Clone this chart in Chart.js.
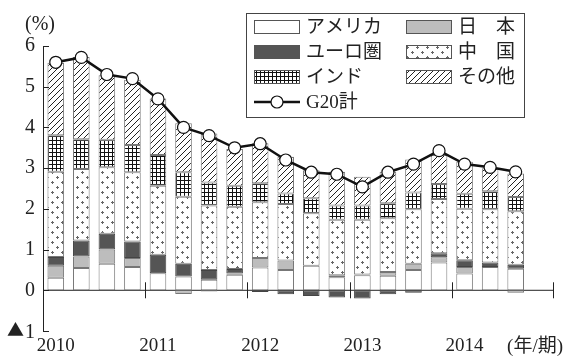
<!DOCTYPE html>
<html lang="ja">
<head>
<meta charset="utf-8">
<script src="https://cdn.jsdelivr.net/npm/chart.js@4.4.1/dist/chart.umd.min.js"></script>
<style>
  html, body { margin: 0; padding: 0; background: #fff; }
</style>
</head>
<body>
<canvas id="g20Chart" width="565" height="356"></canvas>
<script>
// 四半期（年の先頭だけラベルを出す）
const quarters = ['2010', '', '', '', '2011', '', '', '', '2012', '', '', '', '2013', '', '', '', '2014', '', '', ''];
const yTicks = [-1, 0, 1, 2, 3, 4, 5, 6];

// 寄与度 (%)
const usa   = [0.31, 0.55, 0.65, 0.57, 0.42, 0.34, 0.26, 0.38, 0.56, 0.50, 0.60, 0.32, 0.37, 0.36, 0.50, 0.68, 0.41, 0.57, 0.53];
const japan = [0.29, 0.28, 0.35, 0.22, 0.00, -0.09, -0.03, 0.03, 0.23, 0.23, 0.00, 0.05, 0.02, 0.09, 0.15, 0.13, 0.16, 0.00, -0.06];
const euro  = [0.22, 0.39, 0.39, 0.41, 0.45, 0.31, 0.24, 0.11, -0.04, -0.10, -0.14, -0.18, -0.20, -0.10, -0.06, 0.10, 0.17, 0.11, 0.10];
const china = [2.09, 1.76, 1.63, 1.70, 1.70, 1.65, 1.58, 1.53, 1.37, 1.39, 1.29, 1.36, 1.34, 1.32, 1.34, 1.33, 1.26, 1.31, 1.31];
const india = [0.90, 0.73, 0.68, 0.67, 0.75, 0.60, 0.57, 0.52, 0.47, 0.26, 0.37, 0.35, 0.35, 0.37, 0.41, 0.37, 0.37, 0.44, 0.35];
const other = [1.78, 2.02, 1.58, 1.60, 1.39, 1.20, 1.20, 0.90, 0.98, 0.90, 0.69, 0.83, 0.71, 0.77, 0.81, 0.71, 0.79, 0.57, 0.58];
const g20   = [5.60, 5.72, 5.30, 5.20, 4.70, 4.00, 3.80, 3.50, 3.60, 3.20, 2.90, 2.85, 2.54, 2.90, 3.10, 3.43, 3.10, 3.02, 2.91];

const FONT = "'Liberation Serif', 'Noto Sans CJK JP', serif";

// 塗りパターン
function makePattern(size, draw) {
    const c = document.createElement('canvas');
    c.width = size; c.height = size;
    const p = c.getContext('2d');
    p.fillStyle = '#fff';
    p.fillRect(0, 0, size, size);
    draw(p, size);
    return p.createPattern(c, 'repeat');
}

const dotFill = makePattern(10, (p) => {
    p.fillStyle = '#666';
    [[2, 2], [7, 7]].forEach(([x, y]) => {
        p.fillRect(x - 1, y, 3, 1);
        p.fillRect(x, y - 1, 1, 3);
    });
});

const gridFill = makePattern(4, (p) => {
    p.fillStyle = '#111';
    p.fillRect(0, 0, 4, 1);
    p.fillRect(0, 0, 1, 4);
});

const hatchFill = makePattern(6, (p, s) => {
    p.strokeStyle = '#222';
    p.lineWidth = 1;
    p.beginPath();
    p.moveTo(0, s); p.lineTo(s, 0);
    p.moveTo(-1, 1); p.lineTo(1, -1);
    p.moveTo(s - 1, s + 1); p.lineTo(s + 1, s - 1);
    p.stroke();
});

const barStyle = {
    borderColor: '#777',
    borderWidth: 1,
    borderSkipped: false,
    stack: 'g20',
    barPercentage: 0.65,
    categoryPercentage: 1,
    order: 1
};

// 軸まわり・凡例を描くプラグイン
const framePlugin = {
    id: 'frame',
    beforeDatasetsDraw(chart) {
        const {ctx, chartArea, scales: {y}} = chart;
        const y0 = y.getPixelForValue(0);
        ctx.save();
        ctx.strokeStyle = '#222';
        ctx.lineWidth = 1;
        ctx.beginPath();
        ctx.moveTo(chartArea.left, y0);
        ctx.lineTo(chartArea.right, y0);
        ctx.stroke();
        ctx.restore();
    },
    afterDraw(chart) {
        const {ctx, chartArea, scales: {x, y}} = chart;
        const y0 = y.getPixelForValue(0);
        ctx.save();
        ctx.strokeStyle = '#222';
        ctx.lineWidth = 1;

        // 目盛り（内向き）
        ctx.beginPath();
        yTicks.forEach(v => {
            const py = Math.round(y.getPixelForValue(v)) + 0.5;
            ctx.moveTo(chartArea.left, py);
            ctx.lineTo(chartArea.left + 6, py);
        });
        // 年の区切り
        quarters.forEach((q, i) => {
            if (!q || i === 0) return;
            const px = Math.round((x.getPixelForValue(i - 1) + x.getPixelForValue(i)) / 2) + 0.5;
            ctx.moveTo(px, y0 - 8);
            ctx.lineTo(px, y0 + 8);
        });
        ctx.moveTo(chartArea.right - 0.5, y0 - 8);
        ctx.lineTo(chartArea.right - 0.5, y0 + 8);
        ctx.stroke();

        // 目盛りラベル（負値は▲）
        ctx.fillStyle = '#222';
        ctx.textBaseline = 'middle';
        yTicks.forEach(v => {
            const py = y.getPixelForValue(v);
            const tx = chartArea.left - 8;
            ctx.font = '20px ' + FONT;
            ctx.textAlign = 'right';
            ctx.fillText(String(Math.abs(v)), tx, py + (v < 0 ? 2 : 0));
            if (v < 0) {
                const w = ctx.measureText(String(Math.abs(v))).width;
                ctx.font = "17px 'Noto Sans CJK JP'";
                ctx.fillText('▲', tx - w - 1, py - 1);
            }
        });

        // 年ラベル
        ctx.font = '19px ' + FONT;
        ctx.textAlign = 'center';
        quarters.forEach((q, i) => {
            if (q) ctx.fillText(q, x.getPixelForValue(i), chartArea.bottom + 15);
        });
        ctx.textAlign = 'right';
        ctx.fillText('(年/期)', chart.width - 2, chartArea.bottom + 16);
        ctx.font = '20px ' + FONT;
        ctx.textAlign = 'left';
        ctx.fillText('(%)', 25, 25);

        // 凡例
        const box = {left: 246, top: 13, right: 524, bottom: 117};
        ctx.strokeStyle = '#444';
        ctx.strokeRect(box.left + 0.5, box.top + 0.5, box.right - box.left, box.bottom - box.top);
        const rows = [[0, 1], [2, 3], [4, 5], [6]];
        const cols = [254, 406];
        ctx.font = '19px ' + FONT;
        rows.forEach((row, r) => {
            const cy = 27 + r * 25;
            row.forEach((di, c) => {
                const ds = chart.data.datasets[di];
                const sx = cols[c];
                if (ds.type === 'line') {
                    ctx.strokeStyle = '#111';
                    ctx.lineWidth = 2.5;
                    ctx.beginPath();
                    ctx.moveTo(sx, cy);
                    ctx.lineTo(sx + 46, cy);
                    ctx.stroke();
                    ctx.beginPath();
                    ctx.arc(sx + 23, cy, 6, 0, Math.PI * 2);
                    ctx.fillStyle = '#fff';
                    ctx.fill();
                    ctx.lineWidth = 1.2;
                    ctx.stroke();
                } else {
                    ctx.fillStyle = ds.backgroundColor;
                    ctx.fillRect(sx, cy - 7, 46, 14);
                    ctx.strokeStyle = '#555';
                    ctx.lineWidth = 1;
                    ctx.strokeRect(sx + 0.5, cy - 6.5, 45, 13);
                }
                ctx.fillStyle = '#222';
                ctx.textAlign = 'left';
                ctx.fillText(ds.label, sx + 52, cy + 1);
            });
        });
        ctx.restore();
    }
};

new Chart(document.getElementById('g20Chart'), {
    type: 'bar',
    data: {
        labels: quarters,
        datasets: [
            { label: 'アメリカ', data: usa, backgroundColor: '#fff', ...barStyle },
            { label: '日　本', data: japan, backgroundColor: '#bdbdbd', ...barStyle },
            { label: 'ユーロ圏', data: euro, backgroundColor: '#555', ...barStyle, borderColor: '#444' },
            { label: '中　国', data: china, backgroundColor: dotFill, ...barStyle },
            { label: 'インド', data: india, backgroundColor: gridFill, ...barStyle },
            { label: 'その他', data: other, backgroundColor: hatchFill, ...barStyle },
            {
                type: 'line',
                label: 'G20計',
                data: g20,
                stack: 'total',
                order: 0,
                borderColor: '#111',
                borderWidth: 2.5,
                pointRadius: 6,
                pointBackgroundColor: '#fff',
                pointBorderColor: '#111',
                pointBorderWidth: 1.2,
                tension: 0
            }
        ]
    },
    options: {
        responsive: false,
        animation: false,
        layout: { padding: { top: 46, bottom: 25, left: 0, right: 11 } },
        plugins: {
            legend: { display: false },
            tooltip: { enabled: false }
        },
        scales: {
            x: { stacked: true, display: false, offset: true },
            y: {
                stacked: true,
                min: -1,
                max: 6,
                afterFit: (s) => { s.width = 43; },
                afterBuildTicks: (s) => { s.ticks = yTicks.map(v => ({ value: v })); },
                border: { display: true, color: '#222', width: 1 },
                grid: { display: false, drawTicks: false },
                ticks: { display: false }
            }
        }
    },
    plugins: [framePlugin]
});
</script>
</body>
</html>
